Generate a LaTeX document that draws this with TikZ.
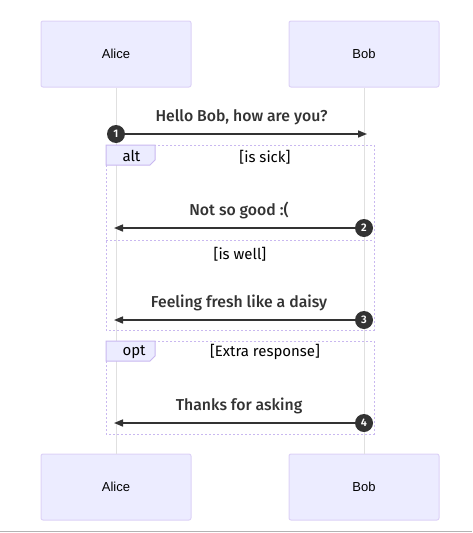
\documentclass[tikz,border=0pt]{standalone}
\usepackage{fontspec}
\setmainfont{Liberation Sans}
\newfontfamily\msgfont{Fira Sans}[UprightFont=* Medium, BoldFont=* SemiBold]
\newfontfamily\guardfont{Fira Sans}
\usetikzlibrary{positioning,arrows.meta}
\definecolor{actorfill}{HTML}{ECECFF}
\definecolor{actorline}{HTML}{DDD2F7}
\definecolor{loopline}{HTML}{C9B8F0}
\definecolor{lifegrey}{HTML}{E0E0E0}
\definecolor{msgdark}{HTML}{333333}
\tikzset{
  actor/.style={draw=actorline, fill=actorfill, rounded corners=2pt, line width=1pt,
    minimum width=150pt, minimum height=66pt, font=\fontsize{13}{15}\selectfont},
  msgline/.style={draw=msgdark, line width=1.6pt, -{Triangle[length=9pt,width=7pt]}},
  msglabel/.style={font=\msgfont\fontsize{15.8}{18}\selectfont, text=msgdark, above=5pt},
  seqnum/.style={circle, fill=msgdark, text=white, inner sep=0pt, minimum size=18pt,
    font=\msgfont\bfseries\fontsize{11}{11}\selectfont},
  frame/.style={draw=loopline, line width=1pt, dash pattern=on 2pt off 2pt},
  tab/.style={draw=loopline, fill=actorfill, line width=1pt},
  guard/.style={font=\guardfont\fontsize{15}{18}\selectfont, text=black},
}
\begin{document}
\begin{tikzpicture}[x=1pt,y=-1pt]
\useasboundingbox (0,0) rectangle (472,533);
\fill[white] (0,0) rectangle (472,533);
\draw[lifegrey!80!black, line width=1pt] (0,531) -- (472,531);

% actors
\node[actor] (alice) at (116,54) {Alice};
\node[actor] (bob) at (364,54) {Bob};
\node[actor] (alice2) at (116,487) {Alice};
\node[actor] (bob2) at (364,487) {Bob};
\draw[lifegrey, line width=1pt] (alice) -- (alice2);
\draw[lifegrey, line width=1pt] (bob) -- (bob2);

% frames
\draw[frame] (106,145) rectangle (374,330);
\draw[frame] (106,240) -- (374,240);
\draw[tab] (106,145) -- (155,145) -- (155,160) -- (150,165) -- (106,165) -- cycle;
\node[guard, anchor=west] (alttag) at (119,156) {alt};
\node[guard] (sick) at (265,157) {[is sick]};
\node[guard] (well) at (240,254) {[is well]};

\draw[frame] (106,341) rectangle (374,434);
\draw[tab] (106,341) -- (155,341) -- (155,356) -- (150,361) -- (106,361) -- cycle;
\node[guard, anchor=west] (opttag) at (119,352) {opt};
\node[guard] (extra) at (265,352) {[Extra response]};

% messages
\coordinate (a1) at (116,134);
\coordinate (b1) at (367,134);
\draw[msgline] (a1) -- (b1) node[midway, msglabel] {Hello Bob, how are you?};
\node[seqnum] (n1) at (a1) {1};

\coordinate (b2) at (364,228);
\coordinate (a2) at (114,228);
\draw[msgline] (b2) -- (a2) node[midway, msglabel] {Not so good :(};
\node[seqnum] (n2) at (b2) {2};

\coordinate (b3) at (364,320);
\coordinate (a3) at (114,320);
\draw[msgline] (b3) -- (a3) node[midway, msglabel] {Feeling fresh like a daisy};
\node[seqnum] (n3) at (b3) {3};

\coordinate (b4) at (364,423);
\coordinate (a4) at (114,423);
\draw[msgline] (b4) -- (a4) node[midway, msglabel] {Thanks for asking};
\node[seqnum] (n4) at (b4) {4};
\end{tikzpicture}
\end{document}
